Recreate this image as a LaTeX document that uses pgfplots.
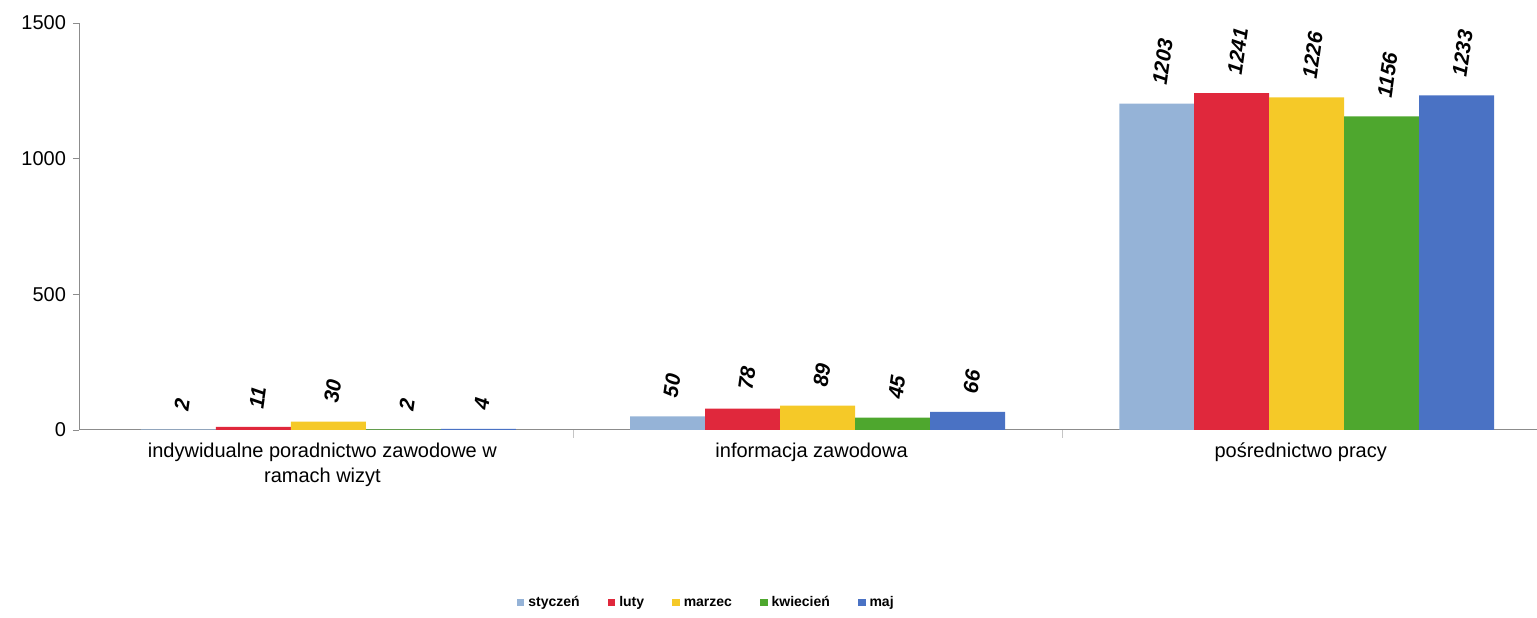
\documentclass[border=0pt]{standalone}
\usepackage{fontspec}
\setmainfont{Liberation Sans}
\usepackage{pgfplots}
\pgfplotsset{compat=1.18}
\definecolor{cSty}{HTML}{95B3D7}
\definecolor{cLut}{HTML}{E0283C}
\definecolor{cMar}{HTML}{F5C928}
\definecolor{cKwi}{HTML}{4EA72E}
\definecolor{cMaj}{HTML}{4A72C4}
\definecolor{axgray}{HTML}{8C8C8C}
\begin{document}
\begin{tikzpicture}
\begin{axis}[
  scale only axis, width=729pt, height=203.5pt,
  ybar=0pt, bar width=37.5pt,
  xmin=-0.51, xmax=2.47, ymin=0, ymax=1500,
  xtick={0,1,2},
  xticklabels={{indywidualne poradnictwo zawodowe w\\ramach wizyt},{informacja zawodowa},{pośrednictwo pracy}},
  xticklabel style={align=center, font=\fontsize{10}{12.5}\selectfont, xshift=-3pt},
  minor xtick={0.5,1.5},
  major x tick style={draw=none},
  minor x tick style={draw=axgray!50, thin},
  minor tick length=4pt,
  ytick={0,500,1000,1500},
  yticklabel style={font=\fontsize{10}{12}\selectfont},
  /pgf/number format/assume math mode=true,
  /pgf/number format/1000 sep={},
  axis x line*=bottom, axis y line*=left,
  axis line style={draw=axgray, -},
  y tick style={draw=axgray},
  major tick length=3pt,
  tick align=outside,
  nodes near coords,
  every node near coord/.append style={rotate=82, anchor=west, font=\bfseries\itshape\fontsize{10.5}{12}\selectfont, xshift=6pt},
  nodes near coords align={vertical},
  legend style={draw=none, at={(0.431,-0.425)}, anchor=center, legend columns=5,
    font=\bfseries\fontsize{7}{8}\selectfont,
    nodes={text height=5.2pt, text depth=1.5pt},
    /tikz/every even column/.append style={column sep=12pt}},
  legend image code/.code={\fill[#1, draw=none] (0pt,-1.8pt) rectangle (3.8pt,2pt);},
  legend cell align=left,
  enlarge x limits=false,
]
\addplot[fill=cSty, draw=none] coordinates {(0,2) (1,50) (2,1203)};
\addplot[fill=cLut, draw=none] coordinates {(0,11) (1,78) (2,1241)};
\addplot[fill=cMar, draw=none] coordinates {(0,30) (1,89) (2,1226)};
\addplot[fill=cKwi, draw=none] coordinates {(0,2) (1,45) (2,1156)};
\addplot[fill=cMaj, draw=none] coordinates {(0,4) (1,66) (2,1233)};
\legend{styczeń, luty, marzec, kwiecień, maj}
\end{axis}
\path (current axis.south west) ++(-39.5pt,-91.5pt) rectangle ++(768.5pt,306.5pt);
\end{tikzpicture}
\end{document}
